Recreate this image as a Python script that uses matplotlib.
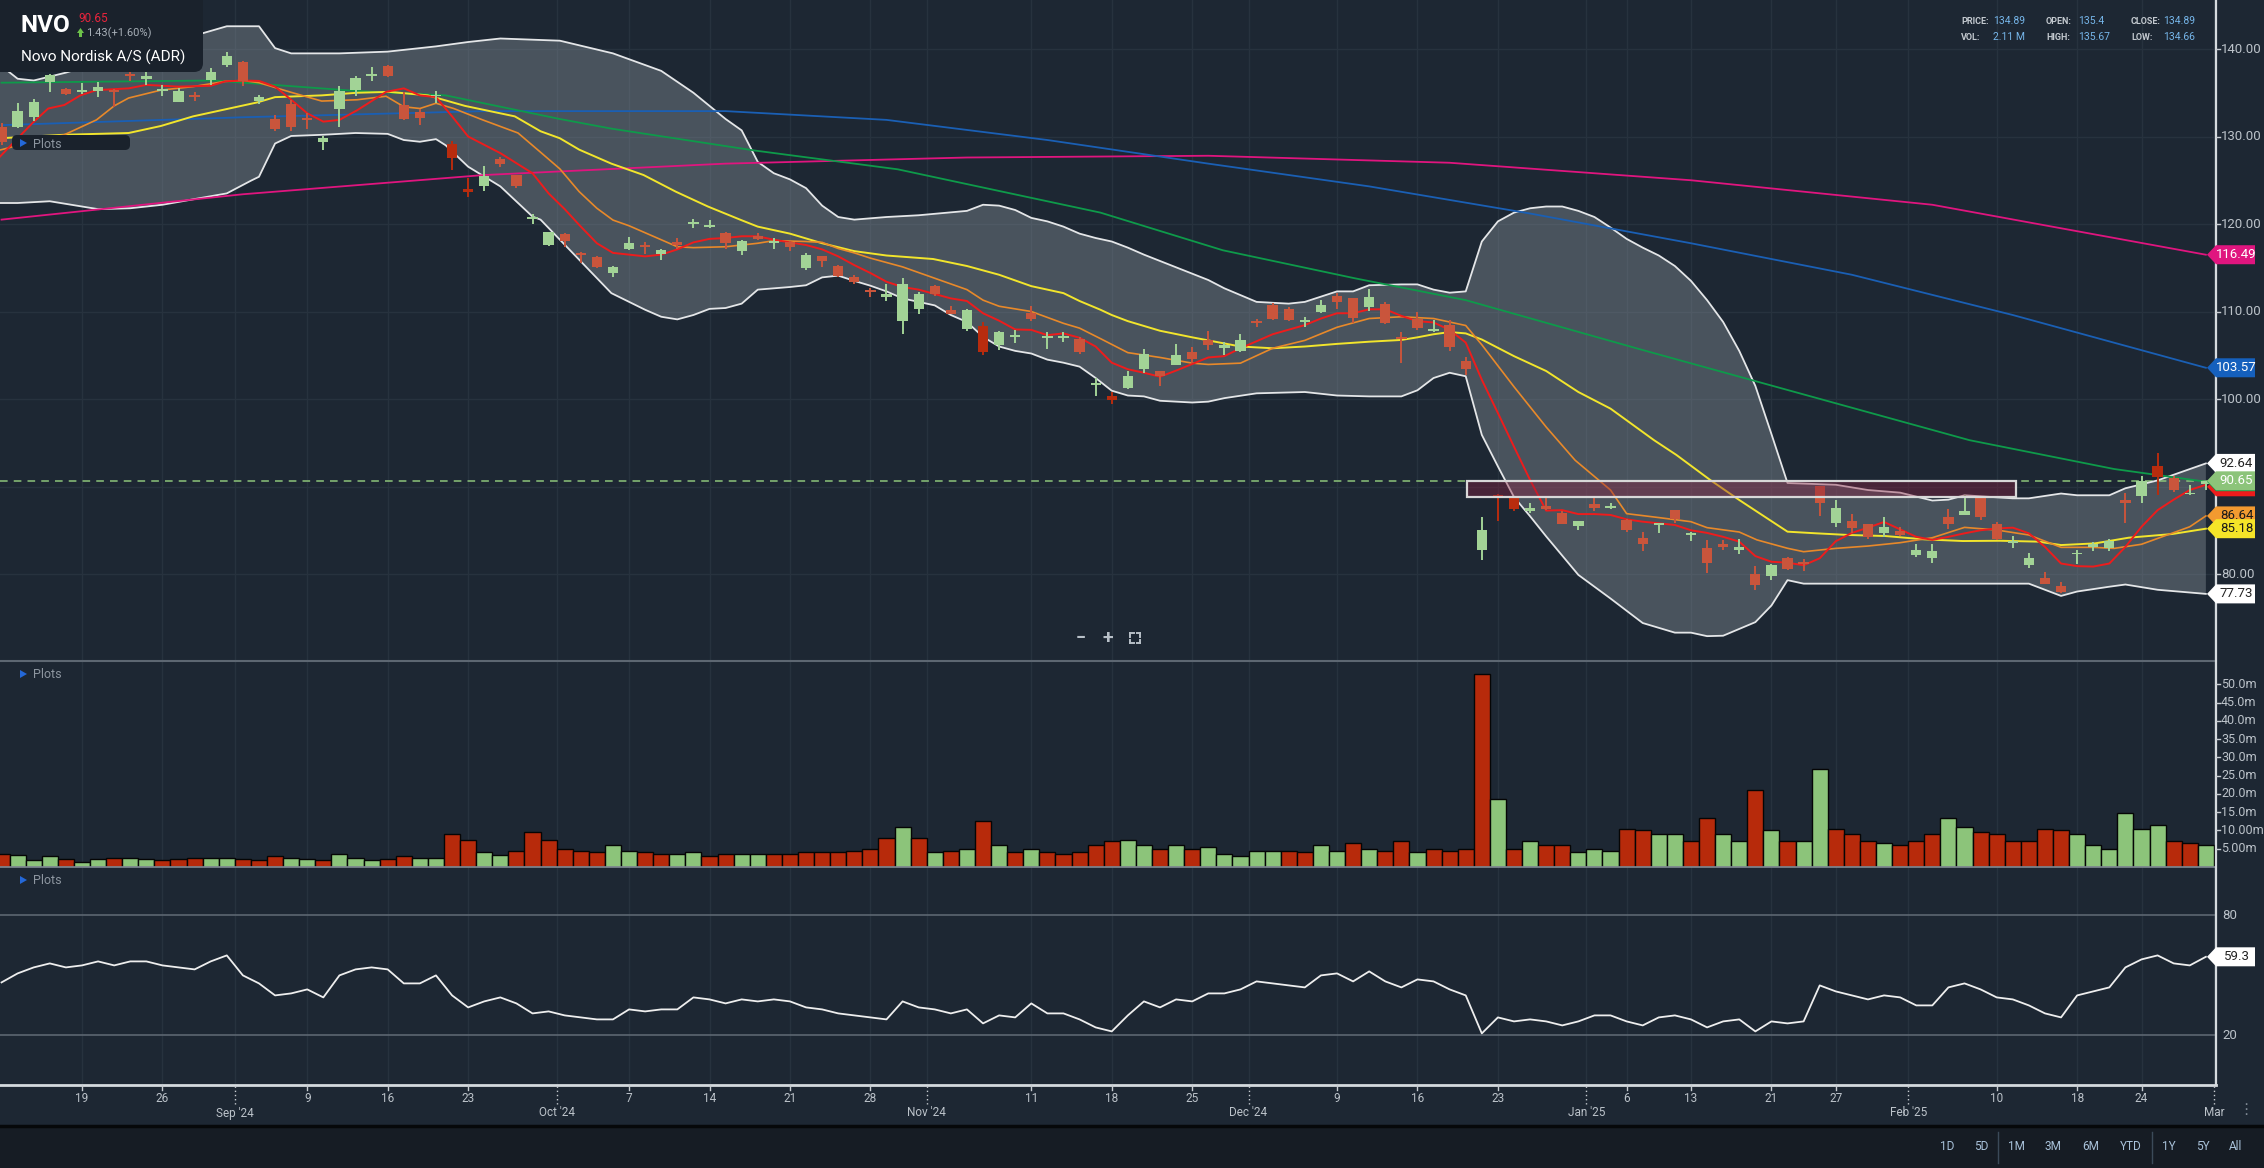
import numpy as np
import matplotlib
matplotlib.use("Agg")
import matplotlib.pyplot as plt
from matplotlib.patches import Polygon, FancyBboxPatch, Rectangle
from matplotlib.lines import Line2D
from matplotlib.transforms import Affine2D

plt.rcParams['font.family'] = ['Roboto', 'DejaVu Sans']

# ---------------- data (trading days, index 0 = 12 Aug 2024) ----------------
opens = [131.1, 131.1, 132.2, 136.2, 135.45, 135.1, 135.25, 135.3, 137.2, 136.55,
         135.2, 134.0, 134.6, 136.45, 138.15, 138.5, 134.1, 131.95, 133.7, 132.0,
         129.35, 133.2, 135.3, 136.95, 138.05, 133.6, 132.85, 134.6, 129.15, 123.95,
         124.4, 127.4, 125.6, 120.6, 117.6, 118.85, 116.6, 116.25, 114.35, 117.15,
         117.45, 116.6, 117.95, 120.0, 119.7, 118.95, 116.95, 118.65, 117.85, 117.95,
         115.0, 116.4, 115.2, 113.95, 112.3, 111.7, 108.95, 110.3, 112.9, 110.15,
         108.0, 108.35, 106.15, 107.1, 109.8, 107.0, 107.0, 106.85, 101.6, 100.35,
         101.3, 103.45, 103.2, 103.9, 105.35, 106.75, 105.85, 105.5, 108.95, 110.75,
         110.3, 108.8, 109.95, 111.75, 111.5, 110.55, 110.85, 107.0, 109.2, 107.8,
         108.45, 104.35, 82.75, 89.05, 88.85, 87.25, 87.75, 86.95, 85.5, 88.0,
         87.6, 86.2, 84.1, 85.6, 87.3, 84.45, 82.95, 83.45, 82.75, 80.0,
         79.75, 81.8, 81.35, 90.05, 85.85, 86.05, 85.7, 84.7, 84.9, 82.15,
         81.8, 86.5, 86.8, 88.7, 85.7, 83.6, 81.05, 79.6, 78.65, 82.25,
         83.05, 82.95, 88.45, 88.95, 92.35, 91.0, 89.1, 90.3]
highs = [131.5, 133.8, 134.25, 137.2, 135.6, 136.1, 136.25, 135.4, 137.6, 137.4,
         135.9, 135.5, 135.1, 137.8, 139.7, 138.65, 134.75, 132.5, 134.15, 132.65,
         130.05, 135.8, 136.9, 137.9, 138.15, 135.1, 133.2, 135.2, 129.5, 125.3,
         126.6, 127.7, 125.6, 121.2, 119.1, 118.95, 116.8, 116.4, 115.2, 118.55,
         117.9, 117.1, 118.4, 120.6, 120.5, 119.1, 118.2, 119.0, 118.35, 118.1,
         116.65, 116.4, 115.3, 114.15, 112.65, 113.2, 113.8, 112.2, 113.05, 110.65,
         110.3, 108.85, 107.8, 107.9, 110.65, 107.7, 107.7, 107.05, 102.4, 100.8,
         103.25, 105.7, 103.2, 106.3, 105.9, 107.75, 106.55, 107.45, 109.15, 110.95,
         110.55, 109.35, 111.3, 112.1, 111.5, 112.55, 111.1, 107.7, 110.0, 109.05,
         109.05, 104.75, 86.55, 89.2, 88.9, 88.15, 88.7, 87.15, 86.1, 88.65,
         88.15, 86.3, 84.75, 85.85, 87.3, 84.85, 83.9, 83.9, 83.95, 80.9,
         81.2, 82.0, 81.7, 90.05, 88.45, 86.85, 85.7, 86.5, 85.35, 83.4,
         83.45, 87.4, 89.05, 88.9, 86.0, 84.35, 82.35, 80.2, 79.05, 82.75,
         83.7, 83.95, 89.3, 91.2, 93.8, 91.2, 90.15, 90.65]
lows = [129.0, 131.0, 131.8, 135.1, 134.7, 134.9, 134.55, 133.4, 136.3, 135.9,
        134.6, 133.9, 134.1, 135.9, 138.0, 135.8, 133.7, 130.6, 130.65, 130.85,
        128.5, 131.05, 134.6, 136.4, 136.75, 131.9, 131.3, 133.8, 126.2, 123.05,
        123.8, 126.5, 124.1, 120.0, 117.5, 117.4, 115.5, 115.0, 113.9, 117.0,
        116.6, 115.9, 117.1, 119.5, 119.5, 117.2, 116.5, 118.2, 117.2, 116.95,
        114.8, 115.05, 114.0, 113.2, 111.7, 111.25, 107.4, 109.7, 111.8, 109.7,
        107.8, 105.0, 105.6, 106.4, 108.95, 105.7, 106.55, 105.1, 100.4, 99.45,
        101.1, 103.0, 101.5, 103.9, 104.1, 105.6, 105.05, 105.4, 108.2, 109.05,
        108.95, 108.25, 109.8, 110.3, 108.7, 110.1, 108.55, 104.15, 107.9, 107.7,
        105.5, 102.75, 81.6, 86.1, 87.15, 86.95, 87.3, 85.7, 85.05, 87.2,
        87.4, 84.85, 82.65, 84.7, 85.85, 83.75, 80.15, 82.75, 82.3, 78.15,
        79.3, 80.5, 80.4, 86.6, 85.4, 84.7, 83.95, 84.2, 84.4, 81.9,
        81.3, 85.2, 86.8, 86.15, 83.9, 82.95, 80.65, 78.85, 77.85, 81.15,
        82.65, 82.65, 85.85, 88.15, 89.05, 89.4, 89.05, 89.6]
closes = [129.4, 132.95, 133.9, 137.0, 134.85, 135.15, 135.7, 135.05, 136.95, 136.95,
          135.45, 135.2, 134.5, 137.4, 139.2, 136.3, 134.5, 130.85, 131.1, 131.9,
          129.8, 135.2, 136.65, 137.1, 136.95, 132.0, 132.15, 134.8, 127.6, 123.65,
          125.5, 126.9, 124.4, 120.7, 119.05, 118.05, 116.5, 115.1, 115.1, 117.85,
          117.4, 117.05, 117.55, 120.05, 119.75, 117.85, 118.05, 118.3, 118.1, 117.4,
          116.45, 115.8, 114.05, 113.4, 112.25, 112.0, 113.2, 112.0, 112.0, 109.7,
          110.15, 105.4, 107.7, 107.2, 109.15, 107.1, 107.05, 105.4, 101.7, 99.9,
          102.65, 105.15, 102.65, 105.0, 104.55, 106.15, 106.15, 106.8, 108.7, 109.2,
          109.05, 108.85, 110.75, 111.1, 109.3, 111.65, 108.7, 106.9, 108.15, 108.0,
          106.0, 103.45, 85.05, 88.85, 87.45, 87.6, 87.45, 85.7, 86.05, 87.6,
          87.7, 85.05, 83.45, 85.7, 86.3, 84.65, 81.3, 83.05, 83.1, 78.75,
          81.05, 80.55, 81.15, 88.1, 87.5, 85.3, 84.2, 85.35, 84.45, 82.75,
          82.65, 85.7, 87.25, 86.55, 83.95, 83.7, 81.85, 78.85, 78.0, 82.3,
          83.4, 83.8, 88.15, 90.65, 91.05, 89.6, 89.22, 90.65]
dark_red_days = [28, 29, 61, 69, 93, 94, 134]

volume_m = [3.5, 3.2, 1.8, 2.9, 2.2, 1.5, 2.1, 2.4, 2.6, 2.1,
            1.8, 2.1, 2.6, 2.6, 2.6, 2.1, 1.8, 2.9, 2.4, 2.3,
            2.0, 3.6, 2.6, 2.0, 2.2, 2.9, 2.6, 2.5, 9.0, 7.5,
            4.0, 3.2, 4.5, 9.5, 7.5, 5.0, 4.5, 4.0, 6.0, 4.5,
            4.0, 3.5, 3.5, 4.0, 3.0, 3.5, 3.5, 3.5, 3.5, 3.5,
            4.0, 4.0, 4.0, 4.5, 5.0, 8.0, 11.0, 8.0, 4.0, 4.5,
            5.0, 12.5, 6.0, 4.0, 5.0, 4.0, 3.5, 4.0, 6.0, 7.0,
            7.5, 6.0, 5.0, 6.0, 5.0, 5.5, 3.5, 3.0, 4.5, 4.5,
            4.5, 4.0, 6.0, 4.5, 6.5, 5.0, 4.5, 7.0, 4.0, 5.0,
            4.5, 5.0, 52.8, 18.5, 5.0, 7.0, 6.0, 6.0, 4.0, 5.0,
            4.5, 10.5, 10.0, 9.0, 9.0, 7.0, 13.5, 9.0, 7.0, 21.0,
            10.0, 7.0, 7.0, 26.8, 10.5, 9.0, 7.0, 6.5, 6.0, 7.0,
            9.0, 13.5, 11.0, 9.5, 9.0, 7.0, 7.0, 10.5, 10.0, 9.0,
            6.0, 4.8, 14.9, 10.3, 11.4, 7.2, 6.7, 5.9]

rsi = [46.5, 51, 54, 56, 54, 55, 57, 55, 57, 57,
       55, 54, 53, 57, 60, 50, 46, 40, 41, 43,
       39, 50, 53, 54, 53, 46, 46, 50, 40, 34,
       37, 39, 36, 31, 32, 30, 29, 28, 28, 33,
       32, 33, 33, 39, 38, 36, 38, 37, 38, 37,
       34, 33, 31, 30, 29, 28, 37, 34, 33, 31,
       33, 26, 30, 29, 36, 31, 31, 28, 24, 22,
       30, 37, 34, 38, 37, 41, 41, 43, 47, 46,
       45, 44, 50, 51, 47, 52, 47, 44, 48, 47,
       43, 40, 21, 29, 27, 28, 27, 25, 27, 30,
       30, 27, 25, 29, 30, 28, 24, 27, 28, 22,
       27, 26, 27, 45, 42, 40, 38, 40, 39, 35,
       35, 44, 46, 43, 39, 38, 35, 31, 29, 40,
       42, 44, 54, 58, 60, 56, 55, 59.3]

# overlay lines: (trading-day index, value)
bb_upper_pts = [(-0.1, 138.2), (1, 136.6), (2, 136.4), (4, 137.3), (7, 139.0), (10, 140.6),
                (12.5, 141.8), (14, 142.6), (16, 142.6), (17, 140.1), (18, 139.5), (21, 139.5),
                (24, 139.7), (27, 140.3), (29, 140.8), (31, 141.2), (34.7, 140.95), (38, 139.5),
                (41, 137.5), (43, 135.0), (45, 132.0), (46, 130.7), (47, 127.1), (48, 125.8),
                (49, 125.1), (50, 124.1), (51, 122.1), (52, 120.8), (53, 120.5), (55, 120.8),
                (57, 121.0), (60, 121.5), (61, 122.2), (62, 122.1), (63, 121.6), (64, 120.7),
                (65, 120.3), (66, 119.7), (67, 118.9), (68, 118.4), (69, 118.0), (70, 117.3),
                (71, 116.5), (73, 115.05), (75, 113.6), (76, 112.65), (78, 111.1), (80, 110.9),
                (81, 111.1), (83, 112.3), (84, 112.3), (85, 113.0), (87, 113.1), (88, 113.1),
                (89, 112.5), (90, 112.15), (91, 112.3), (92, 118.0), (93, 120.3), (94, 121.3),
                (95, 121.8), (96, 122.0), (97, 122.0), (98, 121.5), (99, 120.8), (100, 119.6),
                (101, 118.3), (102, 117.3), (103, 116.4), (104, 115.2), (105, 113.5), (106, 111.3),
                (107, 108.8), (108, 105.5), (109, 101.5), (110, 96.0), (111, 90.4), (114, 90.2),
                (116, 89.6), (118, 89.3), (120, 88.4), (121, 88.5), (122, 89.0), (125, 88.65),
                (126, 88.65), (128, 89.2), (129, 89.0), (131, 89.0), (132, 89.8), (134, 90.7),
                (137, 92.64)]
bb_lower_pts = [(-0.1, 122.4), (1, 122.4), (3, 122.6), (6, 121.7), (8, 121.8), (10, 122.2),
                (14, 123.5), (15.5, 124.95), (16, 125.4), (17, 129.2), (18, 130.06), (20, 130.2),
                (22, 130.4), (24, 130.3), (25, 129.6), (26, 129.4), (27, 129.7), (27.6, 129.0),
                (29, 126.55), (31, 124.3), (33, 120.85), (33.5, 120.5), (35.7, 116.3), (37.9, 112.1),
                (40, 110.2), (41, 109.4), (42, 109.1), (43, 109.6), (44, 110.3), (45, 110.4),
                (46, 110.9), (47, 112.5), (49, 112.8), (50, 113.0), (51, 113.9), (52, 114.1),
                (53, 113.5), (54, 112.95), (55, 112.3), (56, 111.5), (57, 111.1), (58, 110.7),
                (59, 109.6), (60, 108.8), (61, 107.1), (62, 106.0), (63, 105.5), (64, 105.2),
                (65, 104.5), (66, 104.15), (67, 103.7), (68, 102.4), (69, 100.95), (70, 100.4),
                (71, 100.3), (72, 99.8), (74, 99.6), (75, 99.7), (76, 100.1), (78, 100.65),
                (81, 100.8), (83, 100.4), (85, 100.3), (87, 100.3), (88, 101.0), (89, 102.4),
                (90, 103.0), (91, 102.6), (92, 95.9), (93, 92.3), (94, 88.8), (95, 86.6),
                (96, 84.3), (97, 82.1), (98, 79.9), (100, 77.2), (102, 74.4), (104, 73.3),
                (105, 73.3), (106, 72.9), (107, 72.95), (109, 74.5), (110, 76.4), (111, 79.3),
                (112, 78.9), (115, 78.9), (125, 78.9), (126, 78.9), (128, 77.5), (129, 78.0),
                (131, 78.55), (132, 78.8), (134, 78.2), (137, 77.73)]
sma20_pts = [(-0.1, 129.8), (3.9, 130.2), (5.9, 130.3), (7.9, 130.4), (9.9, 131.2), (11.9, 132.3),
             (13.9, 133.1), (15.9, 133.9), (17, 134.5), (19.9, 134.7), (22.1, 135.0), (24.1, 135.1),
             (26.5, 134.7), (28.8, 133.5), (31.9, 132.3), (33.5, 130.6), (34.7, 129.8), (35.9, 128.5),
             (37.9, 126.9), (39.9, 125.6), (41.9, 123.7), (43.9, 122.0), (45.9, 120.5), (47, 119.7),
             (49, 118.9), (51, 117.8), (53, 116.9), (55, 116.4), (57.9, 116.0), (60, 115.2),
             (62, 114.2), (64, 112.9), (66, 112.1), (67, 111.2), (68.3, 110.2), (69, 109.6),
             (70, 108.9), (72, 107.8), (74, 107.05), (77, 106.0), (79, 105.8), (81, 106.0),
             (83, 106.3), (85, 106.55), (87, 106.75), (88, 107.05), (89, 107.4), (90, 107.65),
             (91, 107.5), (92, 106.8), (94, 104.9), (96, 103.2), (98, 100.8), (100, 98.9),
             (101.8, 96.5), (102.7, 95.3), (104.1, 93.6), (106.2, 90.74), (108, 88.46),
             (109.1, 87.13), (111, 84.84), (112.8, 84.65), (114.8, 84.46), (117.1, 84.34),
             (119.5, 83.96), (121.9, 83.77), (124.2, 83.8), (126.6, 83.7), (128, 83.31),
             (130.1, 83.5), (132.2, 84.15), (134.9, 84.57), (137, 85.18)]
ema10_pts = [(-0.1, 128.45), (1.9, 129.4), (3.9, 130.2), (5.9, 131.9), (7.0, 133.5), (7.9, 134.4),
             (9.9, 135.3), (11.9, 135.7), (13.9, 136.3), (15.0, 136.4), (16.0, 136.15), (17.9, 135.1),
             (19.9, 134.05), (22.1, 134.2), (23.9, 134.6), (25.0, 133.4), (26.0, 133.2), (27.0, 133.8),
             (28.1, 133.2), (29.9, 131.9), (32.1, 130.4), (33.5, 128.2), (34.7, 126.3), (35.9, 123.7),
             (37, 121.8), (38, 120.45), (39, 119.8), (40, 119.0), (41, 118.2), (42, 117.4),
             (43, 117.3), (45, 117.4), (47, 117.8), (48, 118.1), (50, 118.0), (51, 117.9),
             (52, 117.2), (53, 116.7), (54, 116.1), (56, 115.1), (58, 113.8), (60, 112.5),
             (61, 111.3), (62, 110.6), (64, 110.0), (66, 108.65), (67, 108.1), (68.3, 106.9),
             (70, 105.3), (72, 104.75), (74, 104.1), (75, 103.95), (77, 104.1), (79, 105.8),
             (81, 106.7), (83, 108.2), (85, 109.2), (87, 109.4), (89, 109.2), (91, 108.4),
             (92, 106.2), (94, 101.4), (96, 96.8), (97.8, 93.0), (100, 89.6), (101, 86.9),
             (103, 86.45), (105, 85.98), (106, 85.3), (108, 84.8), (109.1, 83.9), (111, 82.94),
             (112, 82.55), (114, 82.93), (116, 83.2), (118, 83.58), (120, 84.15), (122, 85.33),
             (124, 85.03), (126, 84.46), (128, 83.05), (130, 83.05), (131.3, 82.93), (133, 83.4),
             (136, 85.4), (137, 86.64)]
sma5_pts = [(-0.1, 127.7), (1.9, 131.5), (2.9, 133.2), (3.9, 133.6), (4.9, 134.7), (5.9, 135.3),
            (7.9, 135.5), (9.0, 135.9), (11.0, 135.7), (13.0, 135.8), (13.9, 136.3), (15.0, 136.4),
            (16.0, 136.35), (17.0, 135.7), (18.0, 134.2), (19.0, 132.65), (20.0, 131.7), (21.0, 131.9),
            (22.1, 133.0), (23.9, 135.1), (25.0, 135.5), (26.0, 134.7), (27.0, 134.5), (28.0, 132.3),
            (29.0, 130.0), (31.0, 128.1), (33.0, 125.8), (34.0, 123.5), (35.0, 121.7), (35.9, 119.9),
            (37.0, 117.8), (38, 116.7), (39, 116.5), (40, 116.3), (41, 116.5), (42, 117.1),
            (43, 117.9), (44, 118.3), (45, 118.4), (46, 118.6), (47, 118.6), (48, 118.2),
            (49, 117.9), (50, 117.6), (51, 117.1), (52, 116.3), (53, 115.3), (54, 114.4),
            (55, 113.4), (56, 112.8), (57, 112.5), (58, 112.0), (59, 111.5), (60, 111.2),
            (61, 109.8), (62, 108.95), (63, 107.95), (64, 107.9), (65, 107.3), (66, 107.5),
            (67, 107.0), (68, 106.0), (69, 104.15), (70, 103.4), (71, 103.0), (72, 102.55),
            (73, 103.25), (75, 104.75), (76, 104.9), (77, 105.8), (79, 107.4), (81, 108.45),
            (82, 109.2), (83, 109.8), (84, 109.8), (85, 110.25), (86, 110.25), (87, 109.5),
            (88, 108.9), (89, 108.75), (90, 107.9), (91, 106.45), (92, 102.2), (93, 98.4),
            (94, 94.55), (95, 90.75), (96, 87.25), (97, 87.3), (98, 86.85), (99, 86.85),
            (100, 86.75), (101, 86.25), (102, 85.98), (103, 85.8), (104, 85.6), (105, 85.0),
            (106, 84.7), (107, 84.25), (108, 83.7), (109, 82.05), (110, 81.4), (111, 81.3),
            (112, 81.0), (113, 81.8), (114, 83.75), (115, 84.7), (116, 85.3), (117, 85.95),
            (118, 85.1), (119, 84.25), (120, 83.9), (121, 84.25), (122, 84.65), (123, 85.0),
            (124, 85.2), (125, 85.3), (126, 84.65), (127, 83.1), (128, 81.2), (129, 80.9),
            (130, 80.85), (131, 81.2), (132, 83.1), (133, 85.4), (134, 87.3), (135, 88.5),
            (136, 89.6), (137, 90.2)]
sma50_pts = [(0, 136.15), (13.2, 136.4), (22.1, 135.2), (27.6, 134.7), (34.7, 132.0), (37.9, 130.9),
             (46.8, 128.4), (55.7, 126.25), (68.3, 121.3), (75.9, 117.0), (84.1, 113.8), (91.0, 111.3),
             (101.8, 105.7), (122.3, 95.3), (131.3, 92.0), (137, 90.55)]
sma100_pts = [(0, 131.3), (15, 132.2), (30, 132.9), (45, 132.9), (55, 131.9), (65, 129.6), (75, 126.9),
              (85, 124.3), (95, 121.2), (105, 117.8), (115, 114.2), (125, 109.6), (137, 103.57)]
sma200_pts = [(0, 120.5), (15, 123.4), (30, 125.6), (45, 126.9), (60, 127.6), (75, 127.8), (90, 127.0),
              (105, 125.0), (120, 122.2), (137, 116.49)]

gap_start, gap_end = 91.05, 125.2
gap_lo, gap_hi = 88.77, 90.63

day_ticks = [5, 10, 19, 24, 29, 39, 44, 49, 54, 64, 69, 74, 83, 88, 93, 101, 105, 110, 114, 124, 129, 133]
day_labels = ['19', '26', '9', '16', '23', '7', '14', '21', '28', '11', '18', '25', '9', '16', '23',
              '6', '13', '21', '27', '10', '18', '24']
month_ticks = [14.5, 34.5, 57.5, 77.5, 98.5, 118.5, 137.5]
month_labels = ["Sep '24", "Oct '24", "Nov '24", "Dec '24", "Jan '25", "Feb '25", "Mar"]

price_ticks = [80, 90, 100, 110, 120, 130, 140]
price_tick_shown = [80, 100, 110, 120, 130, 140]   # 90.00 sits under the price tags
vol_ticks = [5, 10, 15, 20, 25, 30, 35, 40, 45, 50]
vol_tick_labels = ['5.00m', '10.00m', '15.0m', '20.0m', '25.0m', '30.0m', '35.0m', '40.0m', '45.0m', '50.0m']
rsi_ticks = [20, 80]

info_rows = [[('PRICE:', '134.89'), ('OPEN:', '135.4'), ('CLOSE:', '134.89')],
             [('VOL:', '2.11 M'), ('HIGH:', '135.67'), ('LOW:', '134.66')]]
range_buttons = ['1D', '5D', '1M', '3M', '6M', 'YTD', '1Y', '5Y', 'All']

# ---------------- style ----------------
BG = '#1d2733'
GRID = '#27323e'
TXT = '#bcc3ca'
GREEN = '#a2d396'
RED = '#c9553c'
DARK_RED = '#b82c0e'
VGREEN = '#8cc47a'
VRED = '#b72a0b'

W, H = 2264, 1168
PW = 2216
X_LO, X_HI = -0.096, 137.63
P_LO, P_HI = 70.06, 145.6
V_HI = 56.4
R_LO, R_HI = -4.3, 104.2

fig = plt.figure(figsize=(W / 100, H / 100), dpi=100, facecolor=BG)
PX = Affine2D().scale(1 / W, -1 / H).translate(0, 1) + fig.transFigure


def xpx(i):
    return (i - X_LO) / (X_HI - X_LO) * PW


def add_ax(top, bottom, ylo, yhi):
    a = fig.add_axes([0, 1 - bottom / H, PW / W, (bottom - top) / H])
    a.set_facecolor(BG)
    a.set_xlim(X_LO, X_HI)
    a.set_ylim(ylo, yhi)
    for s in a.spines.values():
        s.set_visible(False)
    a.set_xticks([])
    a.set_yticks([])
    for t in day_ticks + month_ticks:
        a.axvline(t, color=GRID, lw=1, zorder=0)
    return a


def hline(x0, x1, y, **kw):
    fig.add_artist(Line2D([x0, x1], [y, y], transform=PX, **kw))


def vline(x, y0, y1, **kw):
    fig.add_artist(Line2D([x, x], [y0, y1], transform=PX, **kw))


def ftext(x, y, s, **kw):
    return fig.text(x / W, 1 - y / H, s, **kw)


def split(pts):
    return np.array([p[0] for p in pts]), np.array([p[1] for p in pts])


ax = add_ax(0, 661, P_LO, P_HI)
axv = add_ax(661, 867, 0, V_HI)
axr = add_ax(867, 1084, R_LO, R_HI)

idx = np.arange(len(closes))
o, hi, lo, c = (np.array(v) for v in (opens, highs, lows, closes))

# ---------------- price panel ----------------
for p in price_ticks:
    ax.axhline(p, color=GRID, lw=1, zorder=0)

ux, uy = split(bb_upper_pts)
lx, ly = split(bb_lower_pts)
ax.fill(np.r_[ux, lx[::-1]], np.r_[uy, ly[::-1]], color='#8c969e', alpha=0.4, lw=0, zorder=1)
ax.plot(ux, uy, color='#e4e6e8', lw=1.3, zorder=3)
ax.plot(lx, ly, color='#e4e6e8', lw=1.3, zorder=3)

for pts, col, lw in [(sma200_pts, '#e0157f', 1.3), (sma100_pts, '#1a5fb4', 1.3),
                     (sma50_pts, '#0e9a4a', 1.3), (sma20_pts, '#f2e52c', 1.4),
                     (ema10_pts, '#e8892a', 1.2), (sma5_pts, '#ee1c1c', 1.4)]:
    xs, ys = split(pts)
    ax.plot(xs, ys, color=col, lw=lw, zorder=3)

ax.axhline(c[-1], color=VGREEN, lw=1.1, ls=(0, (5, 4)), zorder=2)

body_col = np.where(c >= o, GREEN, RED).astype(object)
for d in dark_red_days:
    body_col[d] = DARK_RED
ax.vlines(idx, lo, hi, colors=list(body_col), lw=1.4, zorder=4)
ax.bar(idx, np.maximum(np.abs(c - o), 0.2), bottom=np.minimum(o, c), width=0.64,
       color=list(body_col), lw=0, zorder=5)

ax.add_patch(Rectangle((gap_start, gap_lo), gap_end - gap_start, gap_hi - gap_lo,
                       fc='#8a2040', alpha=0.4, ec='none', zorder=6))
ax.add_patch(Rectangle((gap_start, gap_lo), gap_end - gap_start, gap_hi - gap_lo,
                       fc='none', ec='#d8d8d8', lw=1.6, zorder=6))

# ---------------- volume panel ----------------
vol_up = np.r_[c[0] >= o[0], c[1:] >= c[:-1]]
axv.bar(idx, volume_m, width=1.0, color=np.where(vol_up, VGREEN, VRED),
        edgecolor='#050505', lw=1.0, zorder=3)

# ---------------- RSI panel ----------------
for r in rsi_ticks:
    axr.axhline(r, color='#5c6671', lw=1.2, zorder=1)
axr.plot(idx, rsi, color='#eeeeee', lw=1.3, zorder=3)

# ---------------- frame lines ----------------
hline(0, PW, 661, color='#5d6772', lw=1.5, zorder=10)
hline(0, PW, 867, color='#808a94', lw=1.2, zorder=10)
vline(PW, 0, 1085, color='#d5dade', lw=1.6, zorder=10)
hline(0, PW, 1084.5, color='#d5dade', lw=2, zorder=10)
fig.add_artist(Rectangle((0, 1126), W, 42, transform=PX, fc='#161c24', ec='none', zorder=9))
hline(0, W, 1126, color='#06080a', lw=2.5, zorder=10)


# ---------------- right axis labels ----------------
def price_y(p):
    return (P_HI - p) / (P_HI - P_LO) * 661


def vol_y(v):
    return 867 - v / V_HI * 206


def rsi_y(r):
    return 867 + (R_HI - r) / (R_HI - R_LO) * 217


for p in price_ticks:
    y = price_y(p)
    hline(PW, PW + 4, y, color='#c8cdd2', lw=1, zorder=11)
    if p in price_tick_shown:
        ftext(2221, y, f'{p:.2f}', fontsize=9.5, color=TXT, va='center', ha='left', zorder=11)
for v, lab in zip(vol_ticks, vol_tick_labels):
    y = vol_y(v)
    hline(PW, PW + 4, y, color='#c8cdd2', lw=1, zorder=11)
    ftext(2221, y, lab, fontsize=9, color=TXT, va='center', ha='left', zorder=11)
for r in rsi_ticks:
    y = rsi_y(r)
    ftext(2222, y, f'{r}', fontsize=9.5, color=TXT, va='center', ha='left', zorder=11)


def tag(y, txt, fc, tc):
    x0, xb, x1, hh = 2207, 2216, 2255, 9.5
    pts = [(x0, y), (xb, y - hh), (x1, y - hh), (x1, y + hh), (xb, y + hh)]
    fig.add_artist(Polygon(pts, closed=True, transform=PX, fc=fc, ec='none', zorder=20))
    if txt:
        ftext((xb + x1) / 2 + 1, y, txt, fontsize=9.5, color=tc, ha='center', va='center', zorder=21)


tag(price_y(sma200_pts[-1][1]), f'{sma200_pts[-1][1]:.2f}', '#e0157f', '#ffffff')
tag(price_y(sma100_pts[-1][1]), f'{sma100_pts[-1][1]:.2f}', '#1560bd', '#ffffff')
tag(price_y(bb_upper_pts[-1][1]), f'{bb_upper_pts[-1][1]:.2f}', '#ffffff', '#222222')
tag(price_y(sma5_pts[-1][1]) + 2, '', '#ee1c1c', '#ffffff')
tag(price_y(sma50_pts[-1][1]), '', '#0e9a4a', '#ffffff')
tag(price_y(c[-1]), f'{c[-1]:.2f}', '#8cc47a', '#ffffff')
tag(price_y(ema10_pts[-1][1]), f'{ema10_pts[-1][1]:.2f}', '#f39a30', '#1a1a1a')
tag(price_y(sma20_pts[-1][1]), f'{sma20_pts[-1][1]:.2f}', '#f5e428', '#1a1a1a')
tag(price_y(bb_lower_pts[-1][1]), f'{bb_lower_pts[-1][1]:.2f}', '#ffffff', '#222222')
tag(rsi_y(rsi[-1]), f'{rsi[-1]:.1f}', '#ffffff', '#222222')

# ---------------- x axis ----------------
for t, lab in zip(day_ticks, day_labels):
    x = xpx(t)
    vline(x, 1085, 1090, color='#c8cdd2', lw=1, zorder=11)
    ftext(x, 1098, lab, fontsize=8.5, color=TXT, ha='center', va='center', zorder=11)
for t, lab in zip(month_ticks, month_labels):
    x = xpx(t)
    vline(x, 1086, 1104, color='#c8cdd2', lw=1, ls=(0, (1, 2)), zorder=11)
    ftext(x, 1113, lab, fontsize=8.5, color=TXT, ha='center', va='center', zorder=11)
ftext(2246, 1110, '⋮', fontsize=11, color='#7e8893', ha='center', va='center', zorder=11)

# ---------------- header ----------------
fig.add_artist(FancyBboxPatch((-12, -12), 215, 84, boxstyle='round,pad=0,rounding_size=9',
                              transform=PX, fc='#1a222c', ec='none', zorder=15))
ftext(20, 25, 'NVO', fontsize=17.5, fontweight='bold', color='#ffffff', va='center', zorder=16)
ftext(78, 18, f'{c[-1]:.2f}', fontsize=8.5, color='#e8243c', va='center', zorder=16)
fig.add_artist(Polygon([(77, 33), (80.5, 28), (84, 33), (82, 33), (82, 37), (79, 37), (79, 33)],
                       closed=True, transform=PX, fc='#6cc24a', ec='none', zorder=16))
chg = c[-1] - c[-2]
ftext(86, 33, f'{chg:.2f}(+{chg / c[-2] * 100:.2f}%)', fontsize=8, color='#a7afb7', va='center', zorder=16)
ftext(21, 57, 'Novo Nordisk A/S (ADR)', fontsize=11, color='#ffffff', va='center', zorder=16)

# info block
for r, row in enumerate(info_rows):
    y = 21 + r * 16
    for k, (lab, val) in enumerate(row):
        x = 1961 + k * 85
        ftext(x, y, lab, fontsize=6.5, color='#c3c9cf', fontweight='bold', va='center', zorder=16)
        ftext(x + 32, y, val, fontsize=7.5, color='#76b6ea', va='center', zorder=16)

# "Plots" labels
fig.add_artist(FancyBboxPatch((12, 135), 118, 15, boxstyle='round,pad=0,rounding_size=5',
                              transform=PX, fc='#1a222c', ec='none', zorder=15))
for y in (143, 674, 880):
    fig.add_artist(Polygon([(20, y - 4), (20, y + 4), (27, y)], closed=True, transform=PX,
                           fc='#2468d8', ec='none', zorder=16))
    ftext(33, y + 1, 'Plots', fontsize=9, color='#8d96a0', va='center', zorder=16)

# zoom controls
ftext(1081, 638, '−', fontsize=13, fontweight='bold', color='#b8c0c8', ha='center', va='center', zorder=16)
ftext(1108, 638, '+', fontsize=14, fontweight='bold', color='#b8c0c8', ha='center', va='center', zorder=16)
for sx, sy in [(-1, -1), (1, -1), (-1, 1), (1, 1)]:
    cx, cy = 1135 + sx * 5, 638 + sy * 5
    fig.add_artist(Line2D([cx, cx - sx * 3.5], [cy, cy], transform=PX, color='#b8c0c8', lw=1.4, zorder=16))
    fig.add_artist(Line2D([cx, cx], [cy, cy - sy * 3.5], transform=PX, color='#b8c0c8', lw=1.4, zorder=16))

# range buttons
btn_x = [1947, 1981, 2016, 2053, 2091, 2131, 2169, 2203, 2236]
for x, b in zip(btn_x, range_buttons):
    ftext(x, 1147, b, fontsize=8.5, color='#a9c2da', ha='center', va='center', zorder=16)
for x in (1998, 2152):
    vline(x, 1132, 1163, color='#3b4a59', lw=1, zorder=16)

fig.savefig('out.png', dpi=100, facecolor=BG)
